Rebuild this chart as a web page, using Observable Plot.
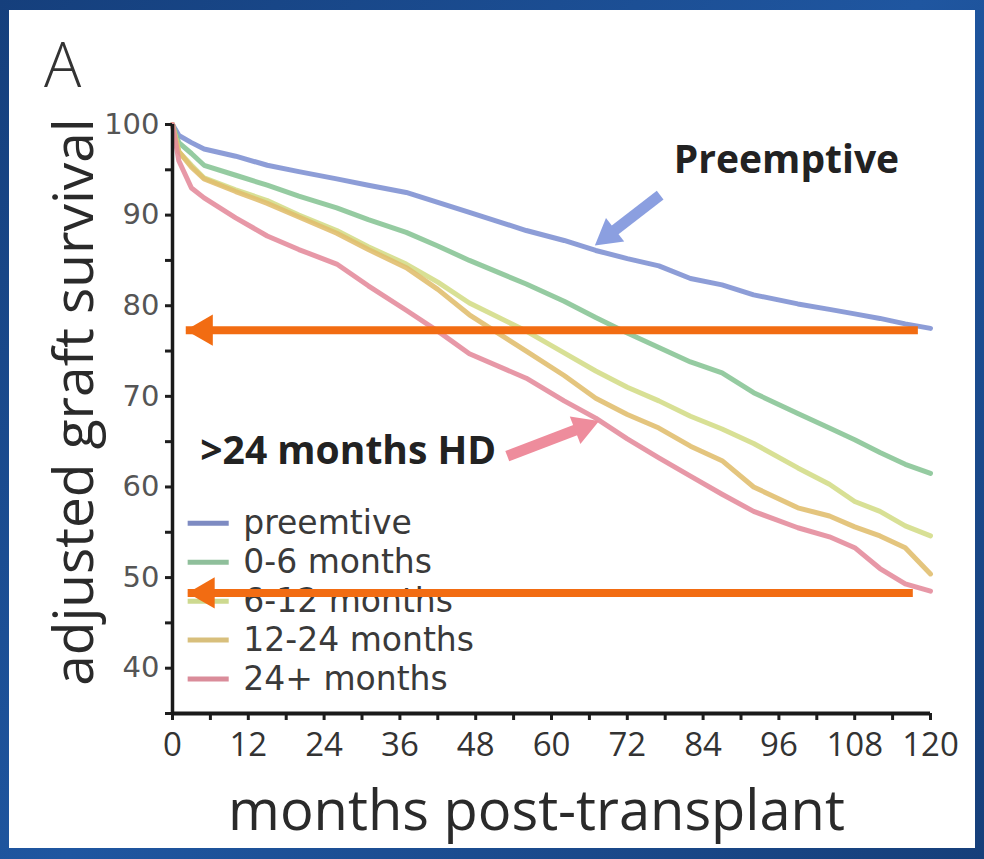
<!DOCTYPE html>
<html><head><meta charset="utf-8">
<script src="https://cdn.jsdelivr.net/npm/d3@7"></script>
<script src="https://cdn.jsdelivr.net/npm/@observablehq/plot@0.6"></script>
<style>
html,body{margin:0;padding:0;}
body{width:984px;height:859px;background:linear-gradient(135deg,#153f7c,#1f56a0 50%,#163f7a);position:relative;overflow:hidden;}
#panel{position:absolute;left:9px;top:10px;width:966px;height:838px;background:#fff;}
</style></head><body><div id="panel"></div>
<script>
// ---- data ----
const months = [0, 1, 3, 5, 10, 15, 20, 26, 31, 37, 42, 47, 56, 62, 67, 72, 77, 82, 87, 92, 99, 104, 108, 112, 116, 120];
const preemptive = [100, 98.8, 98.0, 97.3, 96.5, 95.5, 94.8, 94.0, 93.3, 92.5, 91.4, 90.3, 88.3, 87.2, 86.1, 85.2, 84.4, 83.0, 82.3, 81.2, 80.2, 79.6, 79.1, 78.6, 78.0, 77.5];
const m0to6 = [100, 98.0, 96.8, 95.5, 94.4, 93.3, 92.1, 90.8, 89.5, 88.1, 86.6, 85.0, 82.4, 80.5, 78.7, 77.0, 75.4, 73.8, 72.6, 70.4, 68.1, 66.5, 65.2, 63.8, 62.5, 61.5];
const m6to12 = [100, 97.0, 95.5, 94.1, 92.8, 91.6, 90.0, 88.3, 86.5, 84.6, 82.6, 80.3, 77.2, 74.8, 72.8, 71.0, 69.5, 67.8, 66.4, 64.8, 62.1, 60.3, 58.4, 57.3, 55.7, 54.6];
const m12to24 = [100, 97.0, 95.3, 94.0, 92.6, 91.3, 89.8, 88.0, 86.2, 84.2, 81.8, 79.0, 75.0, 72.3, 69.8, 68.0, 66.5, 64.5, 62.9, 60.0, 57.7, 56.8, 55.6, 54.6, 53.3, 50.4];
const m24plus = [100, 96.0, 93.0, 91.9, 89.7, 87.7, 86.2, 84.6, 82.2, 79.5, 77.2, 74.7, 72.0, 69.5, 67.6, 65.3, 63.2, 61.2, 59.2, 57.3, 55.5, 54.5, 53.3, 51.0, 49.3, 48.5];
const seriesNames = ["preemtive", "0-6 months", "6-12 months", "12-24 months", "24+ months"];
const seriesValues = [preemptive, m0to6, m6to12, m12to24, m24plus];
const xTickLabels = [0, 12, 24, 36, 48, 60, 72, 84, 96, 108, 120];
const xMinorTicks = [0, 6, 12, 18, 24, 30, 36, 42, 48, 54, 60, 66, 72, 78, 84, 90, 96, 102, 108, 114, 120];
const yTickLabels = [40, 50, 60, 70, 80, 90, 100];
const yMinorTicks = [35, 40, 45, 50, 55, 60, 65, 70, 75, 80, 85, 90, 95, 100];
// horizontal reference arrows (level, right end, tip) in data units
const refLevels = [77.3, 48.3];
const refFrom = [118, 117.2];
const refTo = [2.1, 2.4];
// callout annotations
const calloutText = ["Preemptive", ">24 months HD"];
const calloutTextX = [97.2, 4.4];
const calloutTextY = [96.0, 63.9];
const calloutTailX = [77.2, 53.0];
const calloutTailY = [92.2, 63.4];
const calloutHeadX = [69.0, 65.0];
const calloutHeadY = [87.8, 66.6];

// ---- styles ----
const lineColors = ["#7d8fd2", "#86c494", "#d3dc86", "#e0bd6c", "#e48a9b"];
const swatchColors = ["#7e8bc2", "#8fbf9b", "#cdd98f", "#d8bf7c", "#da8c9a"];
const calloutColors = ["#8b9fe0", "#ee8c9c"];
const calloutRotate = [-128, 69];
const legendTop = 56.0, legendStep = 4.3;

const rows = [];
seriesNames.forEach((name, i) => months.forEach((m, j) => rows.push({series: name, month: m, survival: seriesValues[i][j]})));
const refs = refLevels.map((v, i) => ({level: v, from: refFrom[i], to: refTo[i]}));
const callouts = calloutText.map((t, i) => ({text: t, tx: calloutTextX[i], ty: calloutTextY[i], x1: calloutTailX[i], y1: calloutTailY[i], x2: calloutHeadX[i], y2: calloutHeadY[i], color: calloutColors[i], rot: calloutRotate[i]}));
const legend = seriesNames.map((s, i) => ({series: s, ly: legendTop - i * legendStep, color: swatchColors[i]}));

const plot = Plot.plot({
  width: 966, height: 838,
  marginLeft: 163, marginRight: 45, marginTop: 114, marginBottom: 135,
  x: {domain: [0, 120], label: null},
  y: {domain: [35, 100], label: null},
  color: {domain: seriesNames, range: lineColors},
  style: {fontFamily: "'Open Sans', sans-serif", background: "white", overflow: "visible"},
  marks: [
    Plot.line(rows, {x: "month", y: "survival", z: "series", stroke: "series", strokeWidth: 5, strokeOpacity: 0.88}),
    // axes
    Plot.axisX({ticks: xMinorTicks, tickSize: 7, strokeWidth: 3, stroke: "#1e1e1e", tickFormat: () => ""}),
    Plot.axisX({ticks: xTickLabels, tickSize: 0, tickPadding: 19, fontSize: 33, fontFamily: "'Liberation Sans Narrow', 'Open Sans', sans-serif", fill: "#333"}),
    Plot.axisY({ticks: yMinorTicks, tickSize: 7, strokeWidth: 3, stroke: "#1e1e1e", tickFormat: () => ""}),
    Plot.axisY({ticks: yTickLabels, tickSize: 0, tickPadding: 13, fontSize: 29, fontFamily: "'DejaVu Sans', sans-serif", fill: "#555"}),
    Plot.ruleX([0], {y1: 35, y2: 100, stroke: "#1a1a1a", strokeWidth: 3.5}),
    Plot.ruleY([35], {x1: 0, x2: 120, stroke: "#1a1a1a", strokeWidth: 4}),
    // axis titles
    Plot.text(["months post-transplant"], {frameAnchor: "bottom", textAnchor: "middle", lineAnchor: "middle", dx: -15, dy: 99, fontSize: 56, fill: "#2a2a2a"}),
    Plot.text(["adjusted graft survival"], {frameAnchor: "left", textAnchor: "middle", lineAnchor: "middle", rotate: -90, dx: -97, dy: -17, fontSize: 55, fill: "#2a2a2a"}),
    Plot.text(["A"], {frameAnchor: "top-left", textAnchor: "middle", lineAnchor: "middle", dx: -110, dy: -57, fontSize: 62, fontWeight: 300, fill: "#333"}),
    // callouts
    Plot.link(callouts, {x1: "x1", y1: "y1", x2: "x2", y2: "y2", stroke: "color", strokeWidth: 11}),
    Plot.dot(callouts, {x: "x2", y: "y2", symbol: "triangle", r: 11, fill: "color", rotate: "rot"}),
    Plot.text(callouts.slice(0, 1), {x: "tx", y: "ty", text: "text", textAnchor: "middle", fontSize: 39, fontWeight: "bold", fill: "#222"}),
    Plot.text(callouts.slice(1), {x: "tx", y: "ty", text: "text", textAnchor: "start", fontSize: 39, fontWeight: "bold", fill: "#222"}),
    // legend
    Plot.link(legend, {x1: 2.4, x2: 8.9, y1: "ly", y2: "ly", stroke: "color", strokeWidth: 5}),
    Plot.text(legend, {x: 11.2, y: "ly", text: "series", textAnchor: "start", fontSize: 33, fontFamily: "'DejaVu Sans', sans-serif", fill: "#3a3a3a"}),
    // orange reference arrows
    Plot.link(refs, {x1: "from", x2: "to", y1: "level", y2: "level", stroke: "#f26c12", strokeWidth: 8}),
    Plot.dot(refs, {x: "to", y: "level", dx: 18, symbol: "triangle", r: 11.6, fill: "#f26c12", rotate: -90})
  ]
});
document.getElementById("panel").appendChild(plot);
</script></body></html>
